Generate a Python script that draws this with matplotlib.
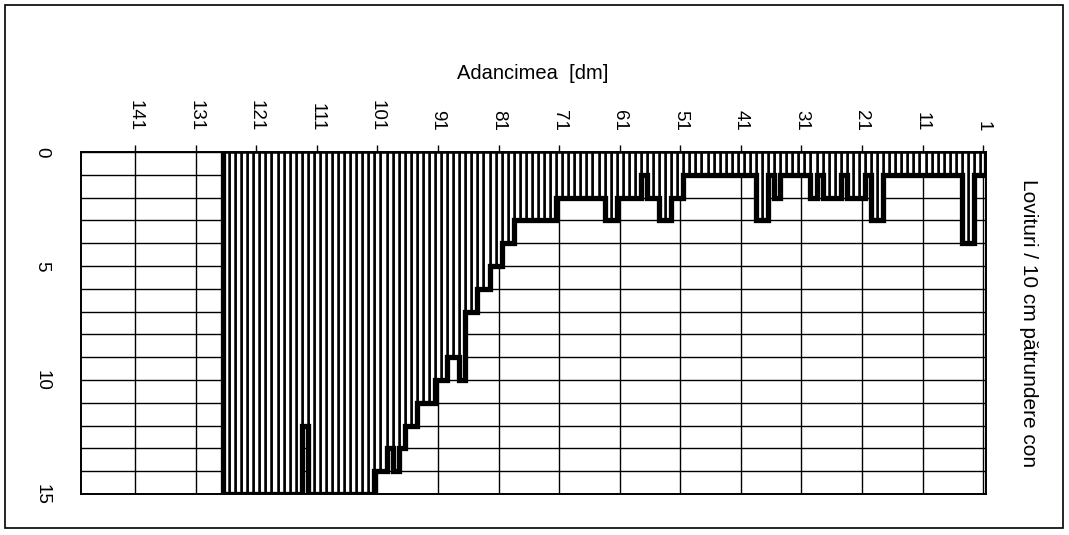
import numpy as np
import matplotlib
matplotlib.use("Agg")
import matplotlib.pyplot as plt
from matplotlib.patches import Rectangle

# depth in dm (one bar per 10 cm step)
depth = list(range(1, 127))

# blows per 10 cm of cone penetration
blows = [
    1, 1, 4, 4, 1, 1, 1, 1, 1, 1,          # 1-10
    1, 1, 1, 1, 1, 1, 1, 3, 3, 1,          # 11-20
    2, 2, 2, 1, 2, 2, 2, 1, 2, 1,          # 21-30
    1, 1, 1, 1, 2, 1, 3, 3, 1, 1,          # 31-40
    1, 1, 1, 1, 1, 1, 1, 1, 1, 1,          # 41-50
    2, 2, 3, 3, 2, 2, 1, 2, 2, 2,          # 51-60
    2, 3, 3, 2, 2, 2, 2, 2, 2, 2,          # 61-70
    2, 3, 3, 3, 3, 3, 3, 3, 4, 4,          # 71-80
    5, 5, 6, 6, 7, 7, 10, 9, 9, 10,        # 81-90
    10, 11, 11, 11, 12, 12, 13, 14, 13, 14,  # 91-100
    14, 15, 15, 15, 15, 15, 15, 15, 15, 15,  # 101-110
    15, 15, 12, 15, 15, 15, 15, 15, 15, 15,  # 111-120
    15, 15, 15, 15, 15, 15,                # 121-126
]

x_ticks = [1, 11, 21, 31, 41, 51, 61, 71, 81, 91, 101, 111, 121, 131, 141]
y_ticks = [0, 5, 10, 15]

plt.rcParams["font.family"] = ["Liberation Sans", "DejaVu Sans"]

fig = plt.figure(figsize=(10.69, 5.35), dpi=100)
ax = fig.add_axes([0.0755, 0.0766, 0.8464, 0.6393])

# white bars with black outline, no gap between them
ax.bar(depth, blows, width=1.0, color="white", edgecolor="black",
       linewidth=1.8, zorder=2)
# heavier outline along the bar ends
edges = np.arange(0.5, len(depth) + 1.0, 1.0)
ax.stairs(blows, edges, color="black", linewidth=3.8, zorder=3)

# depth runs right to left, blows grow downwards
ax.set_xlim(150, 0.6)
ax.set_ylim(15, 0)

ax.xaxis.tick_top()
ax.xaxis.set_label_position("top")
ax.set_xticks(x_ticks)
ax.set_xticklabels([str(t) for t in x_ticks], rotation=-90, fontsize=13.5)
ax.tick_params(axis="x", length=5, width=1, pad=10)

ax.set_yticks(y_ticks)
ax.set_yticks(range(0, 16), minor=True)
ax.set_yticklabels([str(t) for t in y_ticks], rotation=-90, fontsize=13.5,
                   va="center")
ax.tick_params(axis="y", which="major", length=0, pad=22)
ax.tick_params(axis="y", which="minor", length=0)

# grid: every 10 dm and every blow
ax.set_axisbelow(True)
ax.grid(axis="x", which="major", color="black", linewidth=1.0)
ax.grid(axis="y", which="both", color="black", linewidth=1.0)

for s in ax.spines.values():
    s.set_linewidth(1.4)

ax.set_xlabel("Adancimea  [dm]", fontsize=14.5, labelpad=15)
ax.yaxis.set_label_position("right")
ax.set_ylabel("Lovituri / 10 cm pătrundere con", fontsize=15, rotation=-90,
              labelpad=24, va="bottom")

# outer frame of the picture
fig.patches.append(Rectangle((0.0047, 0.013), 0.9897, 0.9776,
                             transform=fig.transFigure, fill=False,
                             edgecolor="black", linewidth=1.2))

plt.savefig("out.png", dpi=100)
